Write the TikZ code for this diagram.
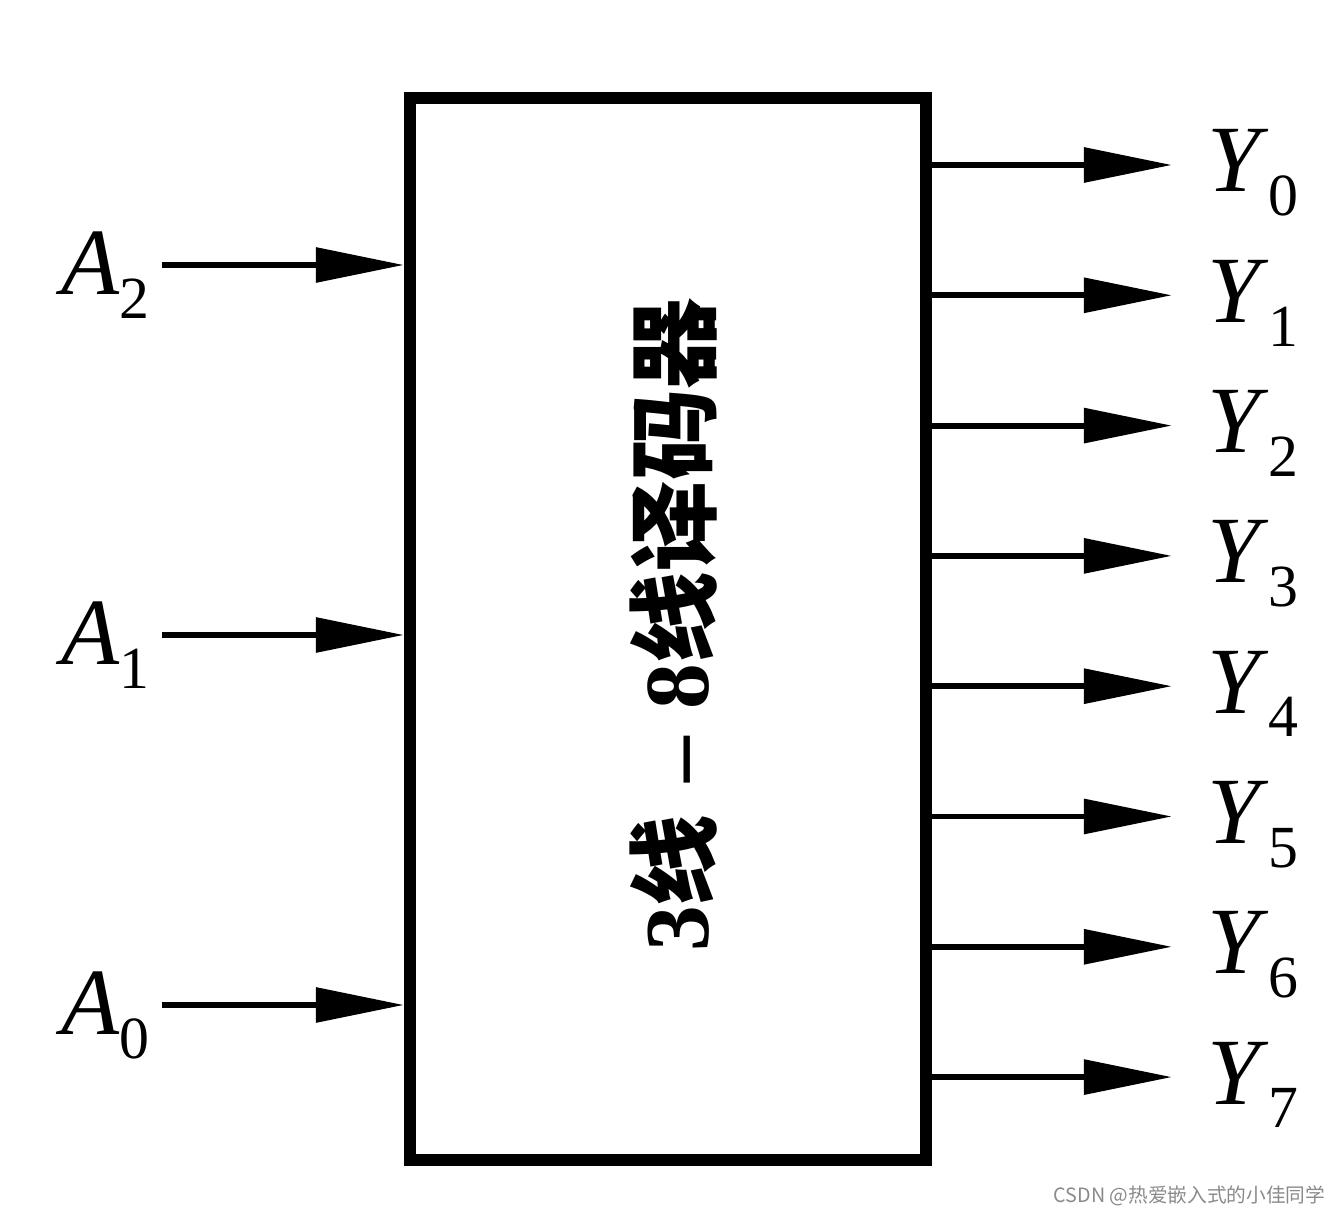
\documentclass[tikz,border=0pt]{standalone}
\usepackage{fontspec}
\setmainfont{Liberation Serif}
\newfontfamily\cjk{Noto Sans CJK SC}
\usetikzlibrary{arrows.meta, positioning, calc}
\definecolor{wmgray}{HTML}{8A8A8A}
\tikzset{
  dec/.style   = {draw, line width=3.4pt, minimum width=5.16cm, minimum height=10.62cm,
                  inner sep=0pt},
  sig/.style   = {-{Triangle[length=8.8mm, width=3.4mm]}, line width=1.7pt},
  plab/.style  = {font=\fontsize{27}{27}\selectfont, inner sep=0pt},
  title/.style = {rotate=90, font=\fontsize{26}{26}\selectfont\bfseries, inner sep=0pt},
  wm/.style    = {font=\cjk\fontsize{5.6}{6}\selectfont, text=wmgray, inner sep=0pt},
}
\newcommand{\port}[2]{\textit{#1}\raisebox{-0.25em}{\fontsize{17}{17}\selectfont #2}}

\begin{document}
\begin{tikzpicture}[x=0.01cm, y=-0.01cm]
\useasboundingbox (0,0) rectangle (1344,1216);

% decoder block
\node[dec] (dec) at (668,629) {};
\node[title] (name) at (674,625)
  {3{\cjk 线}\hspace{0.35em}–\hspace{0.3em}8{\cjk 线译码器}};

% inputs
\foreach \n/\y in {2/265, 1/635, 0/1005} {
  \coordinate (a\n) at (162,\y);
  \draw[sig] (a\n) -- (a\n -| dec.west);
  \node[plab, anchor=base east] (la\n) at ($(a\n)+(-12,30)$) {\port{A}{\n}};
}

% outputs
\foreach \i in {0,...,7} {
  \coordinate (y\i) at (1172,{165+130.3*\i});
  \draw[sig] (y\i -| dec.east) -- (y\i);
  \node[plab, anchor=base west] (ly\i) at ($(y\i)+(35,27)$) {\port{Y}{\i}};
}

\node[wm, anchor=east] (mark) at (1326,1196) {CSDN @热爱嵌入式的小佳同学};

\end{tikzpicture}
\end{document}
